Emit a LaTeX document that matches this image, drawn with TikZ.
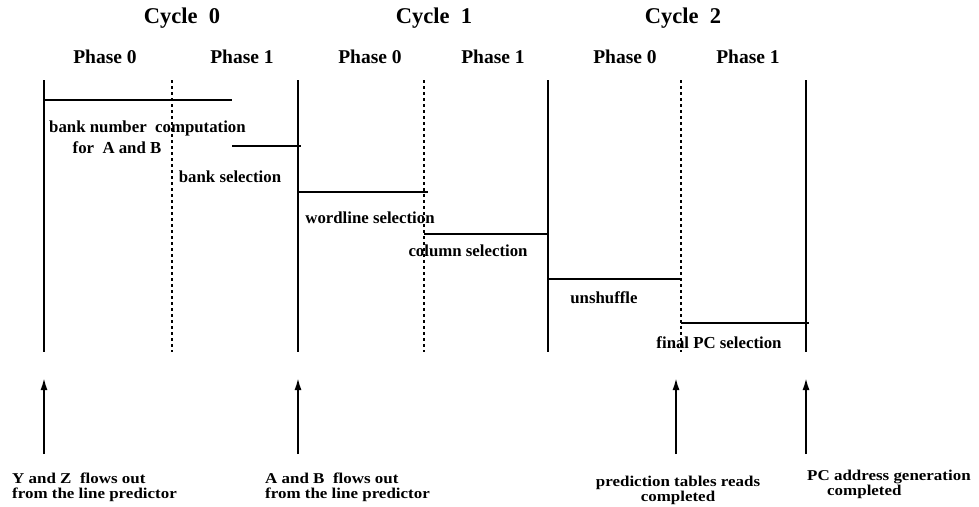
\documentclass[tikz,border=0pt]{standalone}
\usepackage{fontspec}
\setmainfont{Liberation Serif}
\newfontfamily\widefont[FakeStretch=1.13]{Liberation Serif}
\usetikzlibrary{arrows.meta}
\begin{document}
\begin{tikzpicture}[x=1pt,y=-1pt,
  hdr/.style={font=\fontsize{22.5}{24}\selectfont\bfseries, inner sep=0pt},
  phs/.style={font=\fontsize{19.5}{21}\selectfont\bfseries, inner sep=0pt},
  lbl/.style={font=\fontsize{16.8}{18}\selectfont\bfseries, inner sep=0pt},
  note/.style={font=\widefont\bfseries\fontsize{15}{14.5}\selectfont, inner sep=0pt},
  solidline/.style={line width=1.1pt},
  dotline/.style={line width=1.1pt, dash pattern=on 3pt off 3pt},
  barline/.style={line width=1.1pt},
  evarrow/.style={line width=1.8pt, -{Latex[length=12pt,width=7pt]}}
]
\useasboundingbox (0,0) rectangle (979,506);
% header
\node[hdr] (c0) at (182,18) {Cycle\ \ 0};
\node[hdr] (c1) at (434,18) {Cycle\ \ 1};
\node[hdr] (c2) at (683,18) {Cycle\ \ 2};
\node[phs] (p00) at (105,57) {Phase 0};
\node[phs] (p01) at (242,57) {Phase 1};
\node[phs] (p10) at (370,57) {Phase 0};
\node[phs] (p11) at (493,57) {Phase 1};
\node[phs] (p20) at (625,57) {Phase 0};
\node[phs] (p21) at (748,57) {Phase 1};
% vertical lines
\coordinate (t0) at (44,80);  \coordinate (b0) at (44,352);
\coordinate (t1) at (172,80); \coordinate (b1) at (172,352);
\coordinate (t2) at (298,80); \coordinate (b2) at (298,352);
\coordinate (t3) at (424,80); \coordinate (b3) at (424,352);
\coordinate (t4) at (548,80); \coordinate (b4) at (548,352);
\coordinate (t5) at (681,80); \coordinate (b5) at (681,352);
\coordinate (t6) at (806,80); \coordinate (b6) at (806,352);
\draw[solidline] (t0) -- (b0);
\draw[dotline] (t1) -- (b1);
\draw[solidline] (t2) -- (b2);
\draw[dotline] (t3) -- (b3);
\draw[solidline] (t4) -- (b4);
\draw[dotline] (t5) -- (b5);
\draw[solidline] (t6) -- (b6);
% bars
\coordinate (h1a) at (44,100);  \coordinate (h1b) at (232,100);
\coordinate (h2a) at (232,146); \coordinate (h2b) at (301,146);
\coordinate (h3a) at (298,192); \coordinate (h3b) at (428,192);
\coordinate (h4a) at (424,234); \coordinate (h4b) at (548,234);
\coordinate (h5a) at (548,279); \coordinate (h5b) at (681,279);
\coordinate (h6a) at (681,323); \coordinate (h6b) at (809,323);
\draw[barline] (h1a) -- (h1b);
\draw[barline] (h2a) -- (h2b);
\draw[barline] (h3a) -- (h3b);
\draw[barline] (h4a) -- (h4b);
\draw[barline] (h5a) -- (h5b);
\draw[barline] (h6a) -- (h6b);
% labels
\node[lbl, anchor=west] (l1) at (49,128) {bank number\ \ computation};
\node[lbl] (l1b) at (117,148) {for\ \ A and B};
\node[lbl] (l2) at (230,177) {bank selection};
\node[lbl] (l3) at (370,218) {wordline selection};
\node[lbl] (l4) at (468,251) {column selection};
\node[lbl] (l5) at (604,298) {unshuffle};
\node[lbl] (l6) at (719,343) {final PC selection};
% arrows
\coordinate (a0s) at (44,454);  \coordinate (a0e) at (44,378);
\coordinate (a1s) at (298,454); \coordinate (a1e) at (298,378);
\coordinate (a2s) at (676,454); \coordinate (a2e) at (676,378);
\coordinate (a3s) at (806,454); \coordinate (a3e) at (806,378);
\draw[evarrow] (a0s) -- (a0e);
\draw[evarrow] (a1s) -- (a1e);
\draw[evarrow] (a2s) -- (a2e);
\draw[evarrow] (a3s) -- (a3e);
% bottom notes
\node[note, anchor=north west, align=left] (n0) at (12,473) {Y and Z\ \ flows out\\from the line predictor};
\node[note, anchor=north west, align=left] (n1) at (265,473) {A and B\ \ flows out\\from the line predictor};
\node[note, anchor=north, align=center] (n2) at (678,476) {prediction tables reads\\completed};
\node[note, anchor=north west, align=left] (n3) at (807,470) {PC address generation\\\hspace*{20pt}completed};
\end{tikzpicture}
\end{document}
